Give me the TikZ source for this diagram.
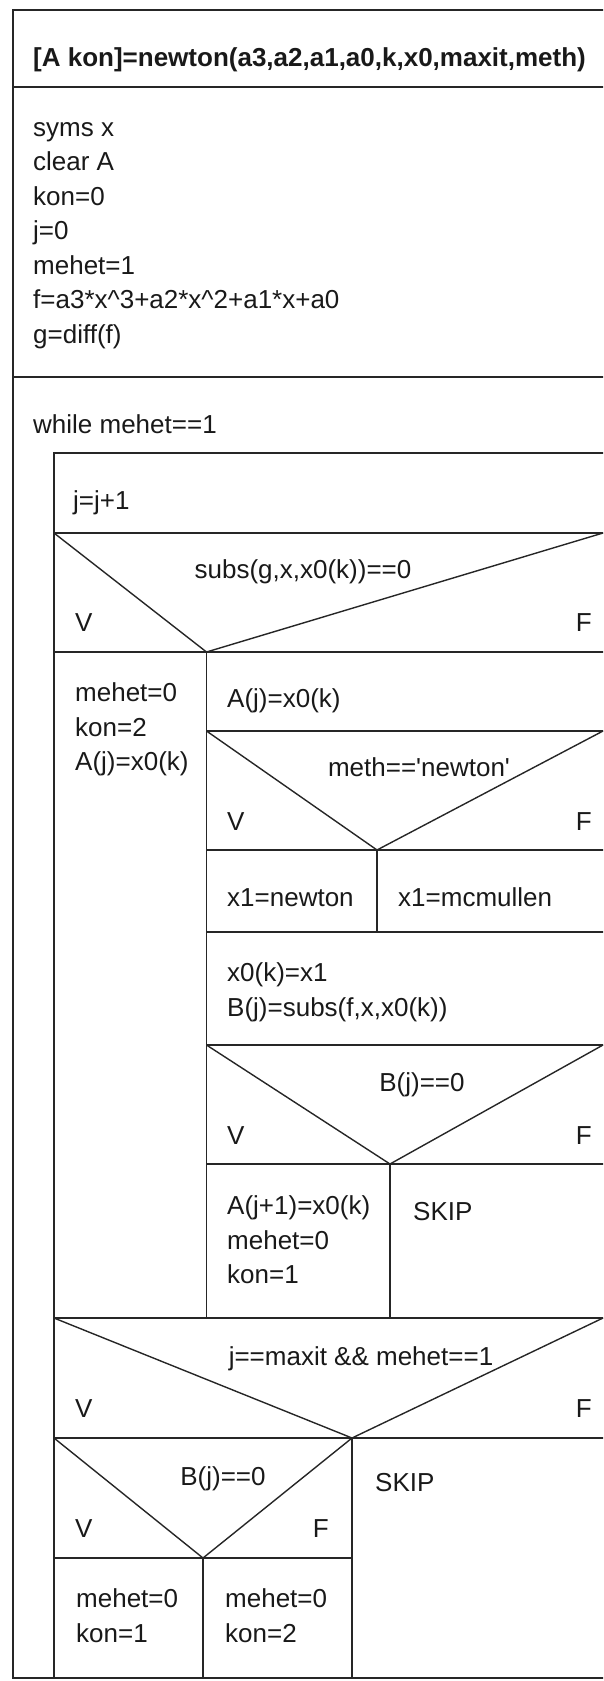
\documentclass[tikz,border=0pt]{standalone}
\usepackage{fontspec}
\setmainfont{Liberation Sans}
\begin{document}
\begin{tikzpicture}[x=1pt,y=-1pt,
  outer/.style={line width=2pt, draw=black!85},
  inner/.style={line width=1.4pt, draw=black!85},
  txt/.style={anchor=base west, inner sep=0pt, text=black!90,
    font=\fontsize{26}{34.5}\selectfont},
  mtxt/.style={anchor=north west, inner sep=0pt, align=left, text=black!90,
    font=\fontsize{26}{34.5}\selectfont, execute at begin node=\strut},
  ctxt/.style={anchor=base, inner sep=0pt, text=black!90,
    font=\fontsize{26}{34.5}\selectfont},
  rtxt/.style={anchor=base east, inner sep=0pt, text=black!90,
    font=\fontsize{26}{34.5}\selectfont},
]
\useasboundingbox (0,0) rectangle (603,1681);
\begin{scope}
\clip (0,0) rectangle (603,1681);

% outer frame: header, initialisation, loop
\draw[outer] (610,10) -- (12.5,10) -- (12.5,1678) -- (610,1678);
\draw[outer] (12.5,87) -- (610,87);
\draw[outer] (12.5,377) -- (610,377);
\node[txt, font=\fontsize{26}{34.5}\selectfont\bfseries] (head) at (33,66)
  {[A kon]=newton(a3,a2,a1,a0,k,x0,maxit,meth)};
\node[mtxt] (init) at (33,121.85)
  {syms x\\clear A\\kon=0\\j=0\\mehet=1\\f=a3*x\textasciicircum3+a2*x\textasciicircum2+a1*x+a0\\g=diff(f)};
\node[txt] (loop) at (33,433) {while mehet==1};

% loop body
\draw[inner] (610,453) -- (54,453) -- (54,1678);
\node[txt] (inc) at (73,509) {j=j+1};
\draw[inner] (54,533) -- (610,533);

% test of the derivative
\draw[inner] (54,533) -- (206.5,652) -- (603,533);
\draw[inner] (54,652) -- (610,652);
\node[ctxt] (c1) at (303,578) {subs(g,x,x0(k))==0};
\node[txt] (c1v) at (75,631) {V};
\node[rtxt] (c1f) at (592,631) {F};

% true branch
\draw[inner] (206.5,652) -- (206.5,1318);
\node[mtxt] (t1) at (75,682.85) {mehet=0\\kon=2\\A(j)=x0(k)};

% false branch
\node[txt] (f1) at (227,707) {A(j)=x0(k)};
\draw[inner] (206.5,731) -- (610,731);
\draw[inner] (206.5,731) -- (377,850) -- (603,731);
\draw[inner] (206.5,850) -- (610,850);
\node[ctxt] (c2) at (419,776) {meth==\textquotesingle newton\textquotesingle};
\node[txt] (c2v) at (227,830) {V};
\node[rtxt] (c2f) at (592,830) {F};
\draw[inner] (377,850) -- (377,932);
\node[txt] (nw) at (227,906) {x1=newton};
\node[txt] (mc) at (398,906) {x1=mcmullen};
\draw[inner] (206.5,932) -- (610,932);
\node[mtxt] (upd) at (227,962.85) {x0(k)=x1\\B(j)=subs(f,x,x0(k))};
\draw[inner] (206.5,1045) -- (610,1045);
\draw[inner] (206.5,1045) -- (390,1164) -- (603,1045);
\draw[inner] (206.5,1164) -- (610,1164);
\node[ctxt] (c3) at (422,1091) {B(j)==0};
\node[txt] (c3v) at (227,1144) {V};
\node[rtxt] (c3f) at (592,1144) {F};
\draw[inner] (390,1164) -- (390,1318);
\node[mtxt] (t3) at (227,1195.85) {A(j+1)=x0(k)\\mehet=0\\kon=1};
\node[txt] (s3) at (413,1220) {SKIP};
\draw[inner] (54,1318) -- (610,1318);

% iteration limit
\draw[inner] (54,1318) -- (352,1438) -- (603,1318);
\draw[inner] (54,1438) -- (610,1438);
\node[ctxt] (c4) at (361,1365) {j==maxit \&\& mehet==1};
\node[txt] (c4v) at (75,1417) {V};
\node[rtxt] (c4f) at (592,1417) {F};
\draw[inner] (352,1438) -- (352,1678);
\draw[inner] (54,1438) -- (203,1558) -- (352,1438);
\draw[inner] (54,1558) -- (352,1558);
\node[ctxt] (c5) at (223,1485) {B(j)==0};
\node[txt] (c5v) at (75,1537) {V};
\node[rtxt] (c5f) at (329,1537) {F};
\draw[inner] (203,1558) -- (203,1678);
\node[mtxt] (t5) at (76,1588.85) {mehet=0\\kon=1};
\node[mtxt] (f5) at (225,1588.85) {mehet=0\\kon=2};
\node[txt] (s4) at (375,1491) {SKIP};
\end{scope}
\end{tikzpicture}
\end{document}
